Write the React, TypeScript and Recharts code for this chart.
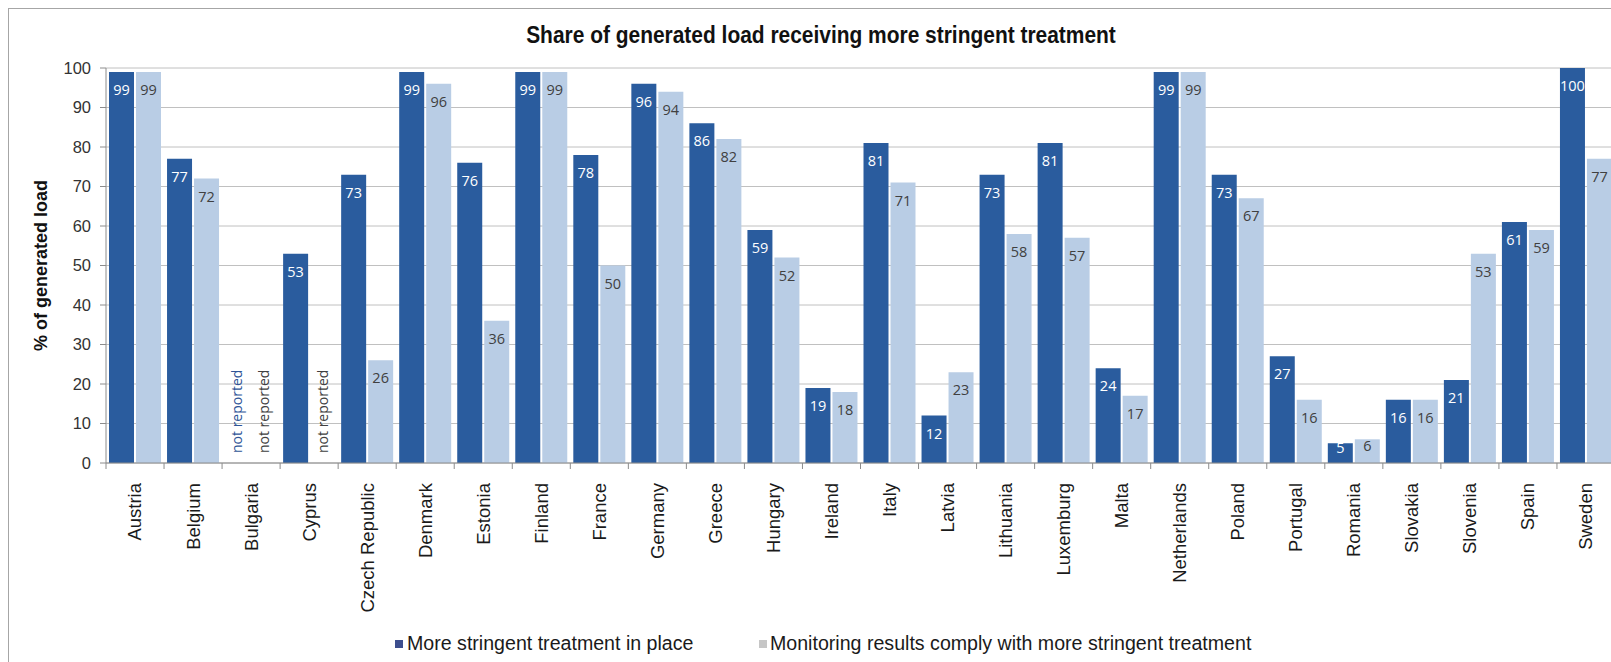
import React from 'react';
import { BarChart, Bar, XAxis, YAxis, CartesianGrid, LabelList } from 'recharts';

const countries = [
  'Austria', 'Belgium', 'Bulgaria', 'Cyprus', 'Czech Republic', 'Denmark', 'Estonia',
  'Finland', 'France', 'Germany', 'Greece', 'Hungary', 'Ireland', 'Italy', 'Latvia',
  'Lithuania', 'Luxemburg', 'Malta', 'Netherlands', 'Poland', 'Portugal', 'Romania',
  'Slovakia', 'Slovenia', 'Spain', 'Sweden',
];

// null = "not reported"
const stringentInPlace = [
  99, 77, null, 53, 73, 99, 76, 99, 78, 96, 86, 59, 19, 81, 12, 73, 81, 24, 99, 73, 27, 5, 16, 21, 61, 100,
];
const monitoringComplies = [
  99, 72, null, null, 26, 96, 36, 99, 50, 94, 82, 52, 18, 71, 23, 58, 57, 17, 99, 67, 16, 6, 16, 53, 59, 77,
];

const yTicks = [0, 10, 20, 30, 40, 50, 60, 70, 80, 90, 100];

const TITLE = 'Share of generated load receiving more stringent treatment';
const Y_LABEL = '% of generated load';
const NOT_REPORTED = 'not reported';
const SERIES_NAMES = ['More stringent treatment in place', 'Monitoring results comply with more stringent treatment'];

const DARK = '#2a5c9e';
const LIGHT = '#b9cde5';
const AXIS = '#8c8c8c';
const GRID = '#c0c0c0';
const SANS = '"Liberation Sans", Arial, sans-serif';
const LABEL_FONT = '"Open Sans", sans-serif';

const CHART_W = 1630;
const CHART_H = 660;
const MARGIN = { top: 59, right: 24, bottom: 0, left: 0 };
const Y_AXIS_W = 97;
const X_AXIS_H = 206;
const CAT_GAP = 3;
const BAR_GAP = 2;
const BAND = (CHART_W - MARGIN.right - Y_AXIS_W) / countries.length;

const rows = countries.map((country, i) => ({
  country,
  inPlace: stringentInPlace[i],
  complies: monitoringComplies[i],
}));

function valueLabel(color: string) {
  return (props: any) => {
    const vb = props.viewBox ?? props;
    const x = Number(vb.x ?? props.x);
    const y = Number(vb.y ?? props.y);
    const w = Number(vb.width ?? props.width);
    const h = Number(vb.height ?? props.height);
    const v = props.value;
    if (v == null) return null;
    const cx = x + w / 2;
    const cy = y + Math.min(18, h / 2 - 5);
    return (
      <text x={cx} y={cy} dy="0.35em" textAnchor="middle" fill={color}
        fontSize={14.5} fontFamily={LABEL_FONT}>
        {v}
      </text>
    );
  };
}

// category tick: boundary tick marks, rotated name, and "not reported" notes for missing bars
const CountryTick = (props: any) => {
  const { x, y, payload, index } = props;
  const half = payload?.offset || BAND / 2;
  const barW = (2 * half - 2 * CAT_GAP - BAR_GAP) / 2;
  const darkX = x - half + CAT_GAP + barW / 2;
  const lightX = darkX + barW + BAR_GAP;
  const noteY = y - 10;
  const ty = y + 20;
  const note = (cx: number, color: string) => (
    <text x={cx} y={noteY} dy="0.35em" transform={`rotate(-90 ${cx} ${noteY})`}
      fill={color} fontSize={14} fontFamily={LABEL_FONT}>
      {NOT_REPORTED}
    </text>
  );
  return (
    <g>
      <line x1={x - half} x2={x - half} y1={y} y2={y + 6} stroke={AXIS} />
      {index === countries.length - 1 && (
        <line x1={x + half} x2={x + half} y1={y} y2={y + 6} stroke={AXIS} />
      )}
      {stringentInPlace[index] == null && note(darkX, '#2f5597')}
      {monitoringComplies[index] == null && note(lightX, '#404040')}
      <text x={x} y={ty} dy="0.35em" textAnchor="end" transform={`rotate(-90 ${x} ${ty})`}
        fill="#1a1a1a" fontSize={18.5} fontFamily={SANS}>
        {payload.value}
      </text>
    </g>
  );
};

const renderYLabel = (props: any) => {
  const vb = props.viewBox;
  const cx = 32;
  const cy = vb.y + vb.height / 2;
  return (
    <text x={cx} y={cy} dy="0.35em" textAnchor="middle" transform={`rotate(-90 ${cx} ${cy})`}
      fill="#111" fontSize={18} fontWeight="bold" fontFamily={SANS}>
      {Y_LABEL}
    </text>
  );
};

export default function App() {
  return (
    <div style={{ position: 'fixed', left: 8, top: 8, width: 1603, height: 654, overflow: 'hidden', background: '#fff' }}>
      <div style={{ position: 'absolute', left: 0, top: 0, width: CHART_W, height: CHART_H, border: '1px solid #a6a6a6' }}>
        <BarChart width={CHART_W} height={CHART_H} data={rows} margin={MARGIN}
          barCategoryGap={CAT_GAP} barGap={BAR_GAP}>
          <CartesianGrid vertical={false} stroke={GRID} />
          <XAxis dataKey="country" interval={0} height={X_AXIS_H} stroke={AXIS}
            tickLine={false} tickSize={0} tickMargin={0} tick={<CountryTick />} />
          <YAxis width={Y_AXIS_W} domain={[0, 100]} ticks={yTicks} interval={0} stroke={AXIS}
            tickSize={6} tickMargin={9} tick={{ fill: '#333', fontSize: 16.5, fontFamily: SANS }}
            label={renderYLabel} />
          <Bar dataKey="inPlace" name={SERIES_NAMES[0]} fill={DARK} isAnimationActive={false}>
            <LabelList dataKey="inPlace" content={valueLabel('#ffffff')} />
          </Bar>
          <Bar dataKey="complies" name={SERIES_NAMES[1]} fill={LIGHT} isAnimationActive={false}>
            <LabelList dataKey="complies" content={valueLabel('#404040')} />
          </Bar>
        </BarChart>
      </div>
      <div style={{ position: 'absolute', left: 0, top: 15.5, width: 1626, textAlign: 'center',
        fontFamily: SANS, fontWeight: 'bold', fontSize: 23, lineHeight: '23px', color: '#111' }}>
        <span style={{ display: 'inline-block', transform: 'scaleX(0.91)' }}>{TITLE}</span>
      </div>
      <div style={{ position: 'absolute', left: 387, top: 632, width: 8, height: 8, background: '#3d4e8e' }} />
      <div style={{ position: 'absolute', left: 399, top: 626, fontFamily: SANS, fontSize: 19.6, lineHeight: '19px', color: '#1a1a1a', whiteSpace: 'nowrap' }}>
        {SERIES_NAMES[0]}
      </div>
      <div style={{ position: 'absolute', left: 751, top: 632, width: 8, height: 8, background: '#c6c6c6' }} />
      <div style={{ position: 'absolute', left: 762, top: 626, fontFamily: SANS, fontSize: 19.6, lineHeight: '19px', color: '#1a1a1a', whiteSpace: 'nowrap' }}>
        {SERIES_NAMES[1]}
      </div>
    </div>
  );
}
